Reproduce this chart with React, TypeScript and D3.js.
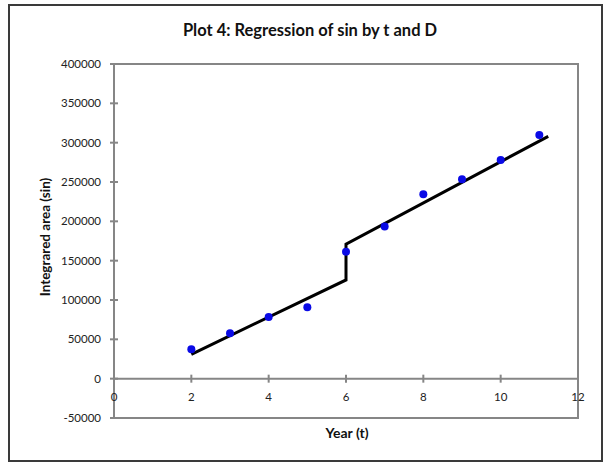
import React from "react";
import * as d3 from "d3";

const years = [2, 3, 4, 5, 6, 7, 8, 9, 10, 11];
const areas = [37500, 57800, 78500, 90800, 161400, 193300, 234500, 253500, 278100, 309900];
const fitLower = [
  { t: 2, v: 31000 },
  { t: 6, v: 125500 },
];
const fitUpper = [
  { t: 6, v: 171000 },
  { t: 11.23, v: 308000 },
];
const xTicks = [0, 2, 4, 6, 8, 10, 12];
const yTicks = [-50000, 0, 50000, 100000, 150000, 200000, 250000, 300000, 350000, 400000];

const W = 610;
const H = 466;
const left = 114;
const right = 578;
const top = 64;
const bottom = 418;
const font = "Lato, 'Open Sans', sans-serif";

export default function App() {
  const x = d3.scaleLinear().domain([0, 12]).range([left, right]);
  const y = d3.scaleLinear().domain([-50000, 400000]).range([bottom, top]);
  const line = d3
    .line<{ t: number; v: number }>()
    .x((d) => x(d.t))
    .y((d) => y(d.v));
  const fitPath = [...fitLower, ...fitUpper];
  const axisColor = "#868686";
  return (
    <svg
      width={W}
      height={H}
      style={{ position: "absolute", left: 0, top: 0, background: "#fff" }}
    >
      <rect x={0} y={0} width={W} height={H} fill="#fff" />
      <rect x={9} y={5} width={593} height={456} fill="#fff" stroke="#3a3a3a" strokeWidth={2} />
      <text x={310} y={36} textAnchor="middle" fontFamily={font} fontWeight="bold" fontSize={16.5} fill="#111">
        Plot 4: Regression of sin by t and D
      </text>
      {/* plot area border */}
      <rect x={left} y={top} width={right - left} height={bottom - top} fill="none" stroke={axisColor} strokeWidth={2} />
      {/* y ticks */}
      {yTicks.map((v) => (
        <g key={v}>
          <line x1={left - 4} x2={left + 4} y1={y(v)} y2={y(v)} stroke={axisColor} strokeWidth={2} />
          <text x={101} y={y(v) + 4} textAnchor="end" fontFamily={font} fontSize={11.5} fill="#222">
            {v}
          </text>
        </g>
      ))}
      {/* x axis at zero */}
      <line x1={left} x2={right} y1={y(0)} y2={y(0)} stroke={axisColor} strokeWidth={2} />
      {xTicks.map((t) => (
        <g key={t}>
          <line x1={x(t)} x2={x(t)} y1={y(0) - 4} y2={y(0) + 4} stroke={axisColor} strokeWidth={2} />
          <text x={x(t)} y={y(0) + 22} textAnchor="middle" fontFamily={font} fontSize={11.5} fill="#222">
            {t}
          </text>
        </g>
      ))}
      <path d={line(fitPath) || ""} fill="none" stroke="#000" strokeWidth={3} />
      {years.map((t, i) => (
        <circle key={t} cx={x(t)} cy={y(areas[i])} r={4} fill="#0a0ae6" />
      ))}
      <text x={347} y={438} textAnchor="middle" fontFamily={font} fontWeight="bold" fontSize={14} fill="#111">
        Year (t)
      </text>
      <text
        transform={`translate(50, 237) rotate(-90)`}
        textAnchor="middle"
        fontFamily={font}
        fontWeight="bold"
        fontSize={13.5}
        fill="#111"
      >
        Integrared area (sin)
      </text>
    </svg>
  );
}
